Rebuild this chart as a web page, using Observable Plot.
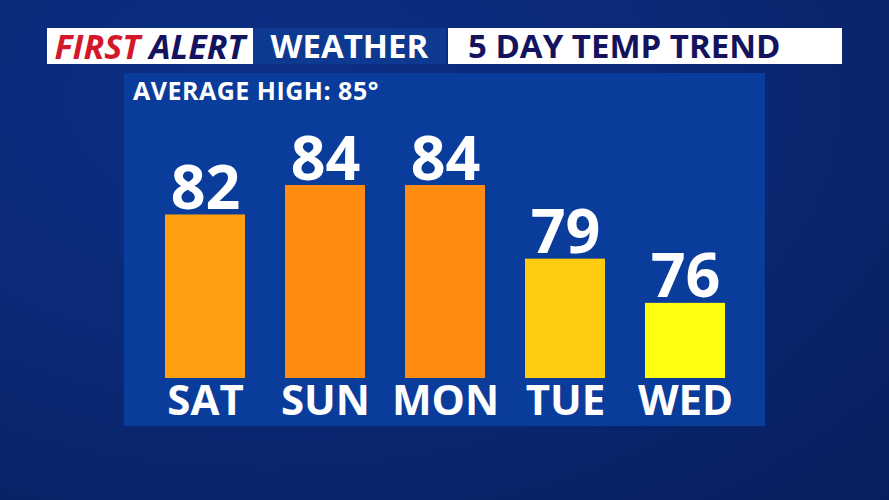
<!DOCTYPE html>
<html><head><meta charset="utf-8">
<script src="https://cdn.jsdelivr.net/npm/d3@7"></script>
<script src="https://cdn.jsdelivr.net/npm/@observablehq/plot@0.6"></script>
<style>
html,body{margin:0;padding:0;}
body{width:889px;height:500px;overflow:hidden;font-family:"Open Sans",sans-serif;}
#bg{position:absolute;left:0;top:0;width:889px;height:500px;
 background:radial-gradient(ellipse at 30% 20%, #0c2f86 0%, #0a2976 45%, #081e5e 100%);}
.hdr{position:absolute;top:28px;height:36px;display:flex;align-items:center;font-weight:700;font-size:33px;line-height:36px;white-space:nowrap;}
#fa{left:47px;width:206px;background:#fff;justify-content:center;font-style:italic;font-size:34px;}
#fa .r{color:#d3182b;margin-right:9px;}
#fa .b{color:#14145e;}
#wx{left:253px;width:193px;background:#0d3a90;color:#fff;justify-content:center;}
#tt{left:448px;width:394px;background:#fff;color:#14145e;padding-left:20px;box-sizing:border-box;}
#panel{position:absolute;left:124px;top:73px;width:641px;height:353px;background:#0a3c9c;}
#avg{position:absolute;left:9px;top:2px;color:#fff;font-weight:700;font-size:25px;letter-spacing:0.5px;line-height:30px;white-space:nowrap;}
#chart{position:absolute;left:0;top:0;}
</style></head>
<body>
<div id="bg"></div>
<div class="hdr" id="fa"><span class="r">FIRST</span><span class="b">ALERT</span></div>
<div class="hdr" id="wx">WEATHER</div>
<div class="hdr" id="tt">5 DAY TEMP TREND</div>
<div id="panel"><div id="chart"></div><div id="avg">AVERAGE HIGH: 85°</div></div>
<script>
const days = ["SAT","SUN","MON","TUE","WED"];
const highs = [82,84,84,79,76];
const barColors = ["#ff9f12","#ff8c12","#ff8c12","#ffcc10","#ffff10"];
const yMin = 70.9;

const data = days.map((d,i)=>({day:d, temp:highs[i], color:barColors[i]}));

const chart = Plot.plot({
  width:641, height:353,
  marginTop:0, marginLeft:0, marginRight:0, marginBottom:48,
  style:{background:"transparent", fontFamily:"'Open Sans',sans-serif", overflow:"visible"},
  x:{domain:days, range:[40,601], paddingInner:0.335, paddingOuter:0, label:null},
  y:{domain:[yMin,84], range:[305,112], axis:null},
  marks:[
    Plot.barY(data,{x:"day", y1:()=>yMin, y2:"temp", fill:"color"}),
    Plot.text(data,{x:"day", y:"temp", text:d=>String(d.temp), lineAnchor:"bottom", dy:-6,
      fill:"#fff", fontSize:61, fontWeight:700}),
    Plot.axisX({tickSize:0, tickPadding:7, fontSize:42, fontWeight:700, color:"#fff", label:null})
  ]
});
chart.querySelectorAll("g[aria-label='x-axis tick label']").forEach(e=>{e.setAttribute("font-weight","700");});
document.getElementById("chart").appendChild(chart);
</script>
</body></html>
